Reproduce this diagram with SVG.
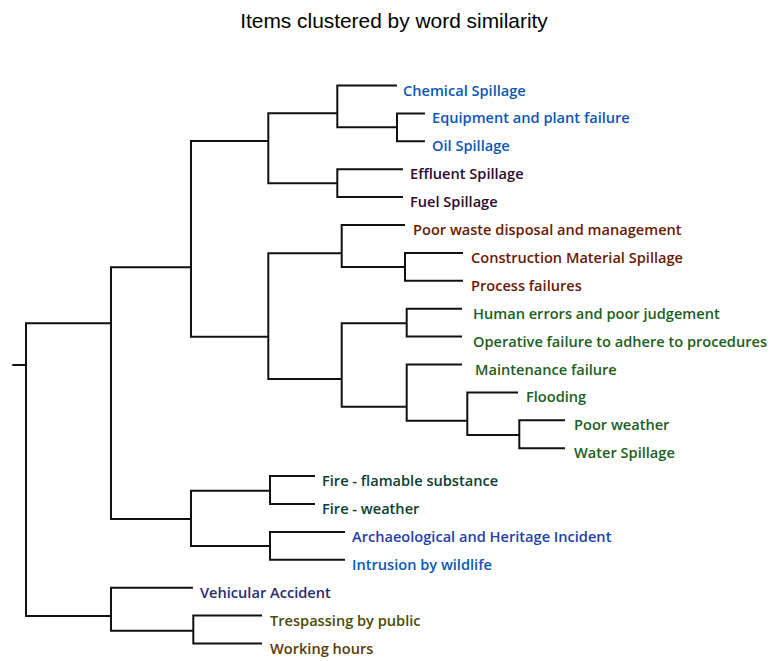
<svg xmlns="http://www.w3.org/2000/svg" width="781" height="661" viewBox="0 0 781 661">
<style>
.t{font-family:"Liberation Sans",Arial,sans-serif;font-size:20.9px;fill:#000}
.l{font-family:"Open Sans","Noto Sans",sans-serif;font-size:14.6px;font-weight:600}
.c path{fill:none;stroke:#111;stroke-width:2;stroke-linejoin:miter}
.blue{fill:#0c56b8}.purp{fill:#2d0a30}.brown{fill:#6b1800}.green{fill:#1b5e20}.teal{fill:#0a3d30}.navy{fill:#1f3fa8}.vb{fill:#2b2b6b}.olive{fill:#4a4a05}.ochre{fill:#5a3a05}
</style>
<rect width="781" height="661" fill="#fff"/>
<text class="t" x="394" y="28" text-anchor="middle">Items clustered by word similarity</text>
<g class="c" id="connectors">
<path d="M425,113.4 H397 V141.3 H425"/>
<path d="M397,85.5 H337.3 V127.3 H397"/>
<path d="M403,169.2 H337.3 V197.1 H403"/>
<path d="M337.3,113.3 H268.3 V183.3 H337.3"/>
<path d="M463,252.9 H405 V280.8 H463"/>
<path d="M405,225 H341.7 V267 H405"/>
<path d="M462,308.7 H406.7 V336.6 H462"/>
<path d="M565,420.3 H519.3 V448.2 H565"/>
<path d="M518,392.4 H467.3 V435 H519.3"/>
<path d="M462,364.5 H406.7 V420.7 H467.3"/>
<path d="M406.7,323.3 H341.7 V406.7 H406.7"/>
<path d="M341.7,253.3 H268.3 V379 H341.7"/>
<path d="M268.3,141 H191 V336.7 H268.3"/>
<path d="M315,476.1 H270 V504 H315"/>
<path d="M345,531.9 H270 V559.8 H345"/>
<path d="M270,490.7 H191 V546 H270"/>
<path d="M191,267.3 H111 V519 H191"/>
<path d="M262,615.6 H193.3 V643.5 H262"/>
<path d="M193,587.7 H111 V630.7 H193.3"/>
<path d="M111,323.3 H26 V616 H111"/>
<path d="M12.3,365 H26"/>
</g>
<g id="n1"><text class="l blue" x="403" y="95.5">Chemical Spillage</text></g>
<g id="n2"><text class="l blue" x="432" y="123.4">Equipment and plant failure</text></g>
<g id="n3"><text class="l blue" x="432" y="151.3">Oil Spillage</text></g>
<g id="n4"><text class="l purp" x="410" y="179.2">Effluent Spillage</text></g>
<g id="n5"><text class="l purp" x="410" y="207.1">Fuel Spillage</text></g>
<g id="n6"><text class="l brown" x="413" y="235">Poor waste disposal and management</text></g>
<g id="n7"><text class="l brown" x="471" y="262.9">Construction Material Spillage</text></g>
<g id="n8"><text class="l brown" x="471" y="290.8">Process failures</text></g>
<g id="n9"><text class="l green" x="473" y="318.7">Human errors and poor judgement</text></g>
<g id="n10"><text class="l green" x="473" y="346.6">Operative failure to adhere to procedures</text></g>
<g id="n11"><text class="l green" x="475" y="374.5">Maintenance failure</text></g>
<g id="n12"><text class="l green" x="526" y="402.4">Flooding</text></g>
<g id="n13"><text class="l green" x="574" y="430.3">Poor weather</text></g>
<g id="n14"><text class="l green" x="574" y="458.2">Water Spillage</text></g>
<g id="n15"><text class="l teal" x="322" y="486.1">Fire - flamable substance</text></g>
<g id="n16"><text class="l teal" x="322" y="514">Fire - weather</text></g>
<g id="n17"><text class="l navy" x="352" y="541.9">Archaeological and Heritage Incident</text></g>
<g id="n18"><text class="l blue" x="352" y="569.8">Intrusion by wildlife</text></g>
<g id="n19"><text class="l vb" x="200" y="597.7">Vehicular Accident</text></g>
<g id="n20"><text class="l olive" x="270" y="625.6">Trespassing by public</text></g>
<g id="n21"><text class="l ochre" x="270" y="653.5">Working hours</text></g>
</svg>
